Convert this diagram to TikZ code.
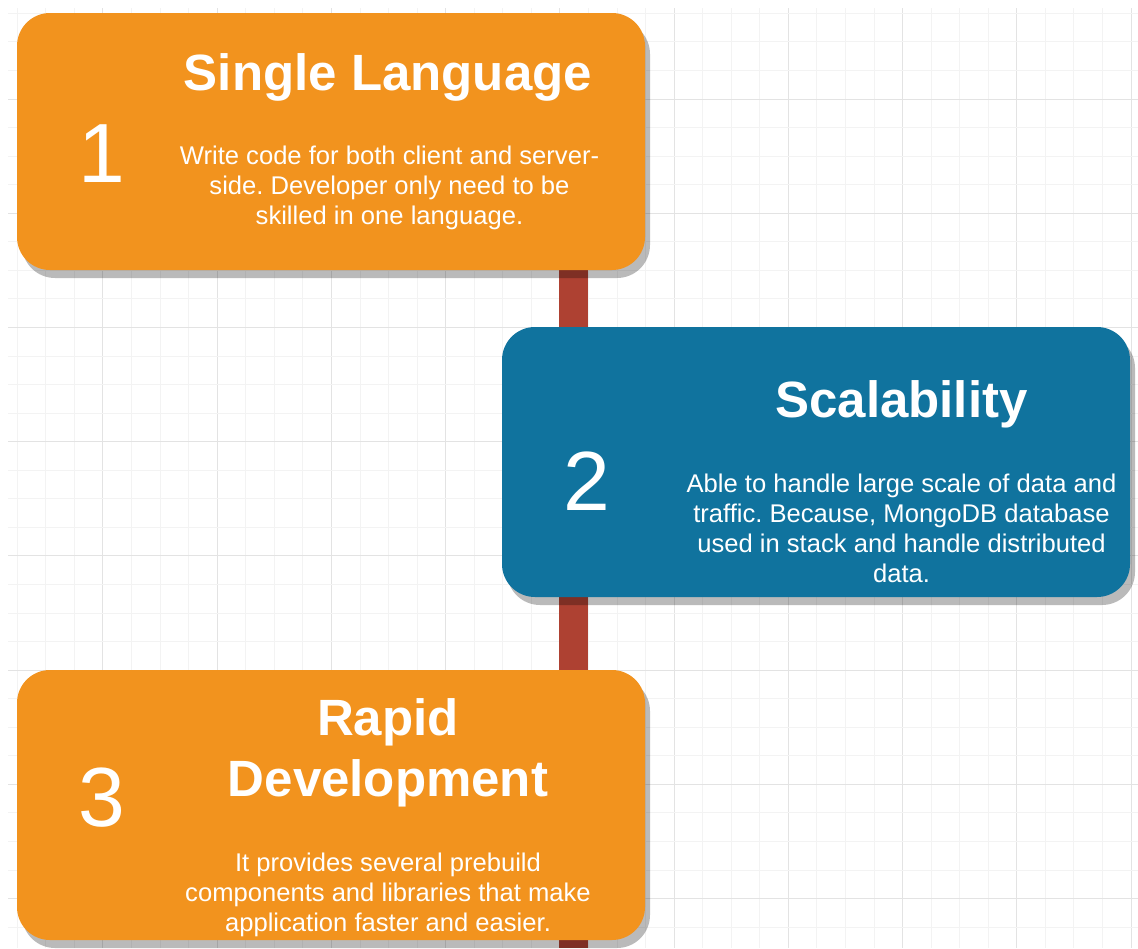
\documentclass[tikz,border=0pt]{standalone}
\usepackage{fontspec}
\setmainfont{Liberation Sans}
\usetikzlibrary{backgrounds,shadows}
\definecolor{cardorange}{HTML}{F2931E}
\definecolor{cardblue}{HTML}{10739E}
\definecolor{spinered}{HTML}{AE4132}
\definecolor{gridmajor}{HTML}{E3E3E3}
\definecolor{gridminor}{HTML}{F3F3F3}
\frenchspacing
\begin{document}
\begin{tikzpicture}[x=1pt,y=-1pt,
  card/.style={rounded corners=33pt, minimum width=628pt, inner sep=0pt, outer sep=0pt,
    drop shadow={shadow xshift=5pt, shadow yshift=-8pt, opacity=0.27, fill=black}},
  numlabel/.style={anchor=base, inner sep=0pt, text=white, font=\fontsize{84}{100}\selectfont},
  headline/.style={anchor=base, inner sep=0pt, text=white, align=center, font=\bfseries\fontsize{51}{61}\selectfont},
  blurb/.style={anchor=base, inner sep=0pt, text=white, align=center, font=\fontsize{25.6}{30}\selectfont},
  spinebar/.style={draw=spinered, line width=29pt},
  minorline/.style={draw=gridminor, line width=0.9pt},
  majorline/.style={draw=gridmajor, line width=1pt}]
\useasboundingbox (0,0) rectangle (1138,948);

% cards
\node[card, fill=cardorange, minimum height=257pt] (single) at (331,141.5) {};
\node[card, fill=cardblue,   minimum height=270pt] (scale)  at (816,462) {};
\node[card, fill=cardorange, minimum height=270pt] (rapid)  at (331,805) {};

% card 1 (multi-line nodes sit on the baseline of their last line)
\node[numlabel] (n1) at (102,182) {1};
\node[headline] (h1) at (388,90) {Single Language};
\node[blurb] (b1) at (389.5,224) {Write code for both client and server-\\side. Developer only need to be\\skilled in one language.};

% card 2
\node[numlabel] (n2) at (587,510) {2};
\node[headline] (h2) at (901.5,417) {Scalability};
\node[blurb] (b2) at (901.5,582) {Able to handle large scale of data and\\traffic. Because, MongoDB database\\used in stack and handle distributed\\data.};

% card 3
\node[numlabel] (n3) at (102,826) {3};
\node[headline] (h3) at (388,796) {Rapid\\Development};
\node[blurb] (b3) at (388,931) {It provides several prebuild\\components and libraries that make\\application faster and easier.};

\coordinate (spine) at (573.5,948);

\begin{scope}[on background layer]
  \fill[white] (0,0) rectangle (1138,948);
  % drawing grid
  \foreach \k in {0,...,39} {
    \pgfmathtruncatemacro{\m}{mod(\k,4)}
    \ifnum\m=3 \def\gs{majorline}\else\def\gs{minorline}\fi
    \draw[\gs] ({17.33+\k*28.556},8) -- ({17.33+\k*28.556},948);
  }
  \foreach \k in {0,...,32} {
    \pgfmathtruncatemacro{\m}{mod(\k,4)}
    \ifnum\m=3 \def\gs{majorline}\else\def\gs{minorline}\fi
    \draw[\gs] (8,{13.33+\k*28.556}) -- (1138,{13.33+\k*28.556});
  }
  % timeline spine joining the cards
  \draw[spinebar] (single.south -| spine) -- (scale.north -| spine);
  \draw[spinebar] (scale.south -| spine) -- (rapid.north -| spine);
  \draw[spinebar] (rapid.south -| spine) -- (spine);
\end{scope}
\end{tikzpicture}
\end{document}
